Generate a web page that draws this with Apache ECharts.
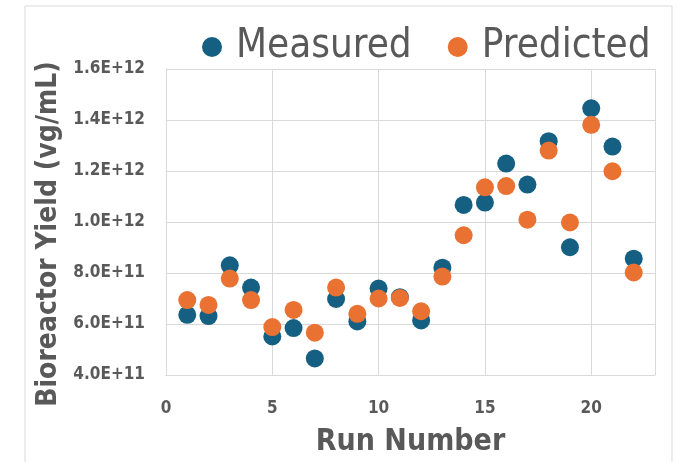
<!DOCTYPE html>
<html>
<head>
    <meta charset="utf-8">
    <title>Bioreactor Yield</title>
    <script src="https://cdn.jsdelivr.net/npm/echarts@6/dist/echarts.min.js"></script>
    <style>
        html, body { margin: 0; padding: 0; background: #fff; }
    </style>
</head>
<body>
    <div id="main" style="width:677px; height:462px;"></div>
    <script>
        // run numbers and yields (vg/mL)
        var runs = [1, 2, 3, 4, 5, 6, 7, 8, 9, 10, 11, 12, 13, 14, 15, 16, 17, 18, 19, 20, 21, 22]
        var measured = [6.36e11, 6.31e11, 8.30e11, 7.43e11, 5.51e11, 5.84e11, 4.65e11, 6.98e11, 6.10e11, 7.39e11, 7.05e11,
            6.14e11, 8.21e11, 1.067e12, 1.076e12, 1.229e12, 1.147e12, 1.317e12, 9.01e11, 1.446e12, 1.296e12, 8.56e11]
        var predicted = [6.94e11, 6.75e11, 7.78e11, 6.94e11, 5.88e11, 6.55e11, 5.66e11, 7.43e11, 6.40e11, 7.00e11, 7.02e11,
            6.50e11, 7.86e11, 9.48e11, 1.136e12, 1.141e12, 1.009e12, 1.280e12, 9.98e11, 1.381e12, 1.199e12, 8.02e11]
        var seriesNames = ['Measured', 'Predicted']

        var pairs = function(ys) {
            var out = []
            for (var i = 0; i < runs.length; i++) {
                out.push([runs[i], ys[i]])
            }
            return out
        }

        var font = "'Liberation Sans Narrow', 'DejaVu Sans Condensed', 'Roboto', sans-serif"
        var grey = '#595959'

        var myChart = echarts.init(document.getElementById('main'))
        var option = {
            animation: false,
            textStyle: { fontFamily: font },
            graphic: [{
                type: 'rect',
                shape: { x: 25, y: 6, width: 647, height: 470 },
                style: { fill: 'none', stroke: '#d9d9d9', lineWidth: 1 }
            }],
            legend: {
                data: seriesNames,
                top: 22,
                left: 197,
                itemWidth: 20,
                itemHeight: 20,
                itemGap: 36,
                icon: 'circle',
                textStyle: { fontSize: 40, color: grey, fontFamily: font, padding: [0, 0, 0, 9] }
            },
            grid: { left: 166, right: 22, top: 69, bottom: 85 },
            xAxis: {
                type: 'value',
                min: 0,
                max: 23,
                interval: 5,
                name: 'Run Number',
                nameLocation: 'middle',
                nameGap: 52,
                nameTextStyle: { fontSize: 30, fontWeight: 'bold', color: grey, fontFamily: font },
                axisLine: { lineStyle: { color: '#d9d9d9', width: 1 } },
                axisTick: { show: false },
                axisLabel: {
                    fontSize: 17, fontWeight: 'bold', color: grey, margin: 25,
                    showMaxLabel: false
                },
                splitLine: { lineStyle: { color: '#d9d9d9' } }
            },
            yAxis: {
                type: 'value',
                min: 4e11,
                max: 1.6e12,
                interval: 2e11,
                name: 'Bioreactor Yield (vg/mL)',
                nameLocation: 'middle',
                nameGap: 87,
                nameTextStyle: { fontSize: 28, fontWeight: 'bold', color: grey, fontFamily: font, padding: [0, 0, 0, -24] },
                axisLine: { show: true, lineStyle: { color: '#d9d9d9', width: 1 } },
                axisTick: { show: false },
                axisLabel: {
                    fontSize: 17, fontWeight: 'bold', color: grey, margin: 21,
                    formatter: function(v) { return v.toExponential(1).toUpperCase() }
                },
                splitLine: { lineStyle: { color: '#d9d9d9' } }
            },
            series: [
                {
                    name: seriesNames[0],
                    type: 'scatter',
                    symbolSize: 18,
                    itemStyle: { color: '#156082', opacity: 1 },
                    data: pairs(measured)
                },
                {
                    name: seriesNames[1],
                    type: 'scatter',
                    symbolSize: 18,
                    itemStyle: { color: '#E97132', opacity: 1 },
                    data: pairs(predicted)
                }
            ]
        }
        myChart.setOption(option)
    </script>
</body>
</html>
